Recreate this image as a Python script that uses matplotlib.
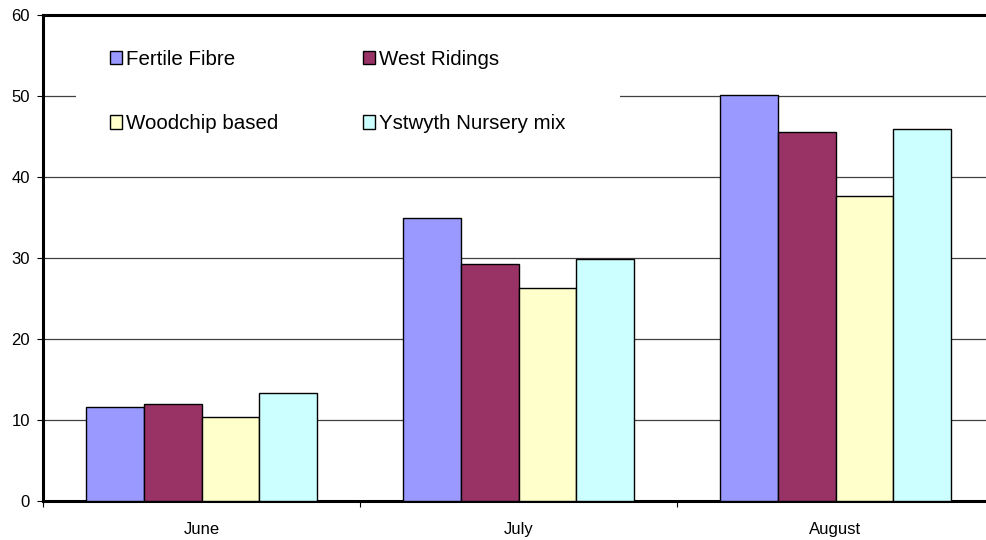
"""Grouped bar chart of monthly growth by compost mix."""

import matplotlib

matplotlib.use("Agg")
import matplotlib.pyplot as plt
import numpy as np
from matplotlib.patches import Rectangle

plt.rcParams["font.family"] = ["Liberation Sans", "DejaVu Sans"]

months = ["June", "July", "August"]
series_names = ["Fertile Fibre", "West Ridings", "Woodchip based", "Ystwyth Nursery mix"]
fertile_fibre = [11.6, 34.9, 50.1]
west_ridings = [12.0, 29.3, 45.6]
woodchip_based = [10.4, 26.3, 37.7]
ystwyth_mix = [13.3, 29.9, 45.9]
y_ticks = [0, 10, 20, 30, 40, 50, 60]

colors = ["#9999FF", "#993366", "#FFFFCC", "#CCFFFF"]


def main() -> int:
    figure = plt.figure(figsize=(9.86, 5.40), dpi=100)
    axes = figure.add_axes([43 / 986, 1 - 501 / 540, 951 / 986, 486 / 540])

    values = [fertile_fibre, west_ridings, woodchip_based, ystwyth_mix]
    x = np.arange(len(months))
    bar_width = 0.727 / 4
    bars = []
    for index, (name, series) in enumerate(zip(series_names, values)):
        offset = (index - 1.5) * bar_width
        bars.append(
            axes.bar(
                x + offset,
                series,
                width=bar_width,
                color=colors[index],
                edgecolor="black",
                linewidth=1.0,
                label=name,
                zorder=3,
            )
        )

    axes.set_xlim(-0.5, len(months) - 0.5)
    axes.set_ylim(0, 60)
    axes.set_yticks(y_ticks)
    axes.set_yticklabels([str(t) for t in y_ticks], fontsize=12)
    axes.set_xticks(x)
    axes.set_xticklabels(months, fontsize=12)
    axes.tick_params(axis="x", length=0, pad=15)
    axes.set_xticks(np.arange(-0.5, len(months)), minor=True)
    axes.tick_params(axis="x", which="minor", length=4, width=0.8, direction="out")
    axes.tick_params(axis="y", length=4.5, width=0.8, direction="out", pad=5)

    for level in y_ticks[1:-1]:
        axes.axhline(level, color="#404040", linewidth=0.9, zorder=1)

    for side in ("left", "top", "bottom"):
        axes.spines[side].set_linewidth(2.2)
        axes.spines[side].set_color("black")
    axes.spines["right"].set_visible(False)

    # white patch behind the legend hides the gridline, like the original
    axes.add_patch(
        Rectangle(
            (76 / 986, 1 - 160 / 540),
            544 / 986,
            132 / 540,
            transform=figure.transFigure,
            facecolor="white",
            edgecolor="none",
            zorder=4,
        )
    )

    handles = [bars[0], bars[2], bars[1], bars[3]]
    labels = [series_names[0], series_names[2], series_names[1], series_names[3]]
    legend = axes.legend(
        handles,
        labels,
        ncol=2,
        loc="upper left",
        bbox_to_anchor=(110 / 986, 1 - 50 / 540),
        bbox_transform=figure.transFigure,
        fontsize=14.8,
        frameon=False,
        handlelength=0.6,
        handleheight=0.6,
        handletextpad=0.2,
        labelspacing=2.2,
        columnspacing=4.1,
        borderpad=0,
        borderaxespad=0,
    )
    legend.set_zorder(5)

    figure.savefig("out.png", dpi=100)
    plt.close(figure)
    return 0


if __name__ == "__main__":
    raise SystemExit(main())
